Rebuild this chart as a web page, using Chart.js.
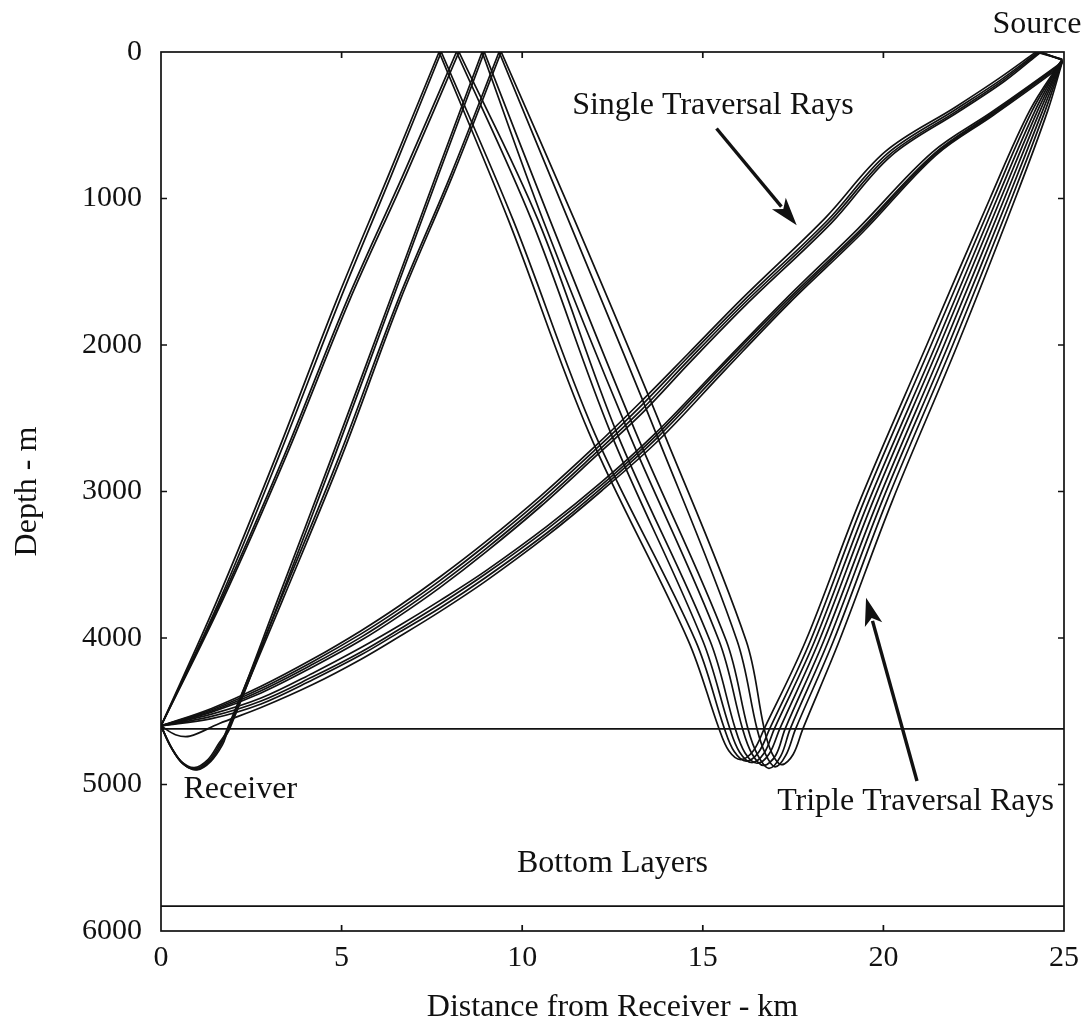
<!DOCTYPE html>
<html>
<head>
<meta charset="utf-8">
<script src="https://cdn.jsdelivr.net/npm/chart.js@4.4.1/dist/chart.umd.min.js"></script>
<style>
  html, body { margin: 0; padding: 0; background: #ffffff; }
  canvas { display: block; }
</style>
</head>
<body>
<canvas id="c" width="1091" height="1025"></canvas>
<script>
// ---------------- DATA (distance km, depth m) ----------------
const xRange = [0, 25];
const yRange = [0, 6000];
const layerDepths = [4620, 5830];

// Single traversal rays, upper bundle (source -> surface bounce -> receiver)
const singleU1 = [[24.95,50],[24.22,0],[23.2,180],[22,375],[20.05,680],[18.4,1130],[16.1,1680],[14.6,2058],[13.25,2396],[12,2696],[10.5,3033],[9,3341],[7.72,3584],[6.6,3780],[5.54,3950],[4.2,4144],[2.77,4330],[1.4,4481],[0,4600]];
const singleU2 = [[24.95,50],[24.28,0],[23.25,190],[22,392],[20.1,695],[18.45,1150],[16.12,1700],[14.6,2080],[13.27,2420],[12,2720],[10.5,3057],[9,3365],[7.72,3608],[6.6,3803],[5.54,3972],[4.2,4162],[2.77,4345],[1.4,4490],[0,4600]];
const singleU3 = [[24.95,55],[24.32,0],[23.3,195],[22.05,400],[20.15,705],[18.5,1160],[16.15,1715],[14.62,2100],[13.3,2443],[12,2745],[10.5,3082],[9,3390],[7.72,3632],[6.6,3826],[5.54,3994],[4.2,4180],[2.77,4360],[1.4,4498],[0,4600]];
const singleU4 = [[24.95,55],[24.36,0],[23.35,200],[22.1,405],[20.2,712],[18.55,1170],[16.2,1725],[14.65,2117],[13.35,2458],[12,2767],[10.5,3104],[9,3412],[7.72,3656],[6.6,3849],[5.54,4016],[4.2,4198],[2.77,4375],[1.4,4506],[0,4600]];
// Single traversal rays, lower bundle (source -> receiver)
const singleL1 = [[24.95,60],[24.8,95],[23,410],[21.35,685],[19.3,1205],[17.3,1685],[15.5,2140],[13.7,2600],[12.2,2935],[10.7,3235],[9,3540],[7.72,3745],[6.6,3915],[5.54,4065],[4.2,4240],[2.77,4410],[1.4,4520],[0,4600]];
const singleL2 = [[24.95,60],[24.8,100],[23,420],[21.4,695],[19.35,1217],[17.32,1697],[15.5,2155],[13.72,2615],[12.2,2955],[10.7,3255],[9,3560],[7.72,3770],[6.6,3940],[5.54,4095],[4.2,4265],[2.77,4430],[1.4,4535],[0,4600]];
const singleL3 = [[24.95,65],[24.82,105],[23.02,425],[21.42,700],[19.38,1225],[17.36,1705],[15.55,2165],[13.75,2630],[12.2,2975],[10.7,3280],[9,3585],[7.72,3795],[6.6,3960],[5.54,4115],[4.2,4285],[2.77,4450],[1.4,4550],[0,4600]];
const singleL4 = [[24.95,65],[24.84,110],[23.05,430],[21.45,705],[19.42,1232],[17.4,1712],[15.6,2175],[13.8,2645],[12.2,2995],[10.7,3300],[9,3610],[7.72,3820],[6.6,3990],[5.54,4145],[4.2,4318],[2.77,4475],[1.6,4585],[0.8,4670],[0.4,4660],[0,4600]];

// Triple traversal rays (receiver -> surface bounce -> bottom turn -> source)
const tripleA1 = [[0,4600],[1.55,3745],[3.2,2750],[4.86,1695],[6.3,840],[7.70,0],[9.62,1148],[11.85,2600],[14.6,4019],[15.45,4620],[15.72,4770],[16.05,4830],[16.4,4770],[16.7,4620],[17.85,4019],[19.35,3062],[21.2,2000],[22.95,1000],[24.05,400],[24.95,50]];
const tripleA2 = [[0,4600],[1.62,3745],[3.28,2750],[4.95,1695],[6.38,840],[7.76,0],[9.75,1148],[12.0,2600],[14.8,4019],[15.6,4620],[15.87,4775],[16.2,4840],[16.55,4778],[16.85,4620],[17.98,4019],[19.47,3062],[21.32,2000],[23.05,1000],[24.12,400],[24.95,55]];
const tripleB1 = [[0,4600],[1.66,3745],[3.42,2750],[5.15,1695],[6.7,840],[8.18,0],[10.26,1148],[12.45,2600],[15.0,4019],[15.75,4620],[16.02,4780],[16.35,4850],[16.7,4785],[16.98,4620],[18.1,4019],[19.6,3062],[21.45,2000],[23.15,1000],[24.2,400],[24.95,55]];
const tripleB2 = [[0,4600],[1.7,3745],[3.48,2750],[5.22,1695],[6.78,840],[8.25,0],[10.44,1148],[12.62,2600],[15.2,4019],[15.9,4620],[16.17,4785],[16.5,4855],[16.84,4790],[17.13,4620],[18.22,4019],[19.72,3062],[21.56,2000],[23.25,1000],[24.27,400],[24.95,60]];
const tripleC1 = [[0,4600],[0.25,4735],[0.55,4840],[0.92,4885],[1.3,4830],[1.6,4720],[1.86,4620],[3.22,3745],[4.75,2750],[6.34,1695],[7.62,840],[8.89,0],[10.58,1148],[12.95,2600],[15.45,4019],[16.1,4620],[16.36,4790],[16.68,4870],[17.02,4800],[17.28,4620],[18.35,4019],[19.85,3062],[21.68,2000],[23.35,1000],[24.34,400],[24.95,60]];
const tripleC2 = [[0,4600],[0.28,4745],[0.58,4850],[0.95,4892],[1.33,4835],[1.63,4725],[1.9,4620],[3.28,3745],[4.82,2750],[6.4,1695],[7.68,840],[8.95,0],[10.77,1148],[13.15,2600],[15.65,4019],[16.25,4620],[16.52,4800],[16.83,4890],[17.16,4805],[17.42,4620],[18.48,4019],[19.97,3062],[21.8,2000],[23.45,1000],[24.41,400],[24.95,65]];
const tripleD1 = [[0,4600],[0.3,4755],[0.6,4858],[0.98,4897],[1.36,4838],[1.66,4728],[1.8,4640],[3.3,3745],[4.95,2750],[6.56,1695],[8.02,840],[9.36,0],[11.28,1148],[13.7,2600],[15.95,4019],[16.5,4620],[16.74,4795],[17.0,4880],[17.3,4800],[17.57,4620],[18.62,4019],[20.1,3062],[21.92,2000],[23.55,1000],[24.48,400],[24.95,65]];
const tripleD2 = [[0,4600],[0.32,4760],[0.63,4862],[1.0,4900],[1.38,4842],[1.7,4730],[1.84,4640],[3.36,3745],[5.02,2750],[6.62,1695],[8.08,840],[9.42,0],[11.45,1148],[13.92,2600],[16.2,4019],[16.7,4620],[16.92,4790],[17.18,4865],[17.5,4795],[17.77,4620],[18.78,4019],[20.25,3062],[22.05,2000],[23.65,1000],[24.55,400],[24.95,70]];

const labelTexts = ['Source', 'Single Traversal Rays', 'Triple Traversal Rays', 'Receiver', 'Bottom Layers'];
const axisTitles = ['Distance from Receiver - km', 'Depth - m'];

// ---------------- BUILD ----------------
const FONT = '"Liberation Serif", "Times New Roman", serif';
const rays = [singleU1, singleU2, singleU3, singleU4, singleL1, singleL2, singleL3, singleL4,
              tripleA1, tripleA2, tripleB1, tripleB2, tripleC1, tripleC2, tripleD1, tripleD2];

function splitAtSurface(ray) {
  const legs = [];
  let cur = [];
  ray.forEach((p, i) => {
    cur.push({x: p[0], y: p[1]});
    if (p[1] === 0 && i > 0 && i < ray.length - 1) {
      legs.push(cur);
      cur = [{x: p[0], y: p[1]}];
    }
  });
  legs.push(cur);
  return legs;
}

const datasets = [];
rays.forEach(r => {
  splitAtSurface(r).forEach(leg => {
    datasets.push({
      data: leg, showLine: true, borderColor: '#111', borderWidth: 1.7,
      pointRadius: 0, tension: 0.35, fill: false
    });
  });
});
layerDepths.forEach(d => {
  datasets.push({
    data: [{x: xRange[0], y: d}, {x: xRange[1], y: d}], showLine: true,
    borderColor: '#111', borderWidth: 1.7, pointRadius: 0, tension: 0, fill: false
  });
});

// annotation placement (data coordinates)
const annotationSpec = {
  texts: [
    {i: 0, x: 24.25, y: -185, align: 'center'},
    {i: 1, x: 15.28, y: 369, align: 'center'},
    {i: 2, x: 24.72, y: 5120, align: 'right'},
    {i: 3, x: 0.62, y: 5037, align: 'left'},
    {i: 4, x: 12.5, y: 5543, align: 'center'}
  ],
  arrows: [
    {from: [15.38, 522], to: [17.6, 1182]},
    {from: [20.93, 4976], to: [19.52, 3725]}
  ]
};

const framePlugin = {
  id: 'frame',
  afterDraw(chart) {
    const {ctx, chartArea: a, scales: {x, y}} = chart;
    ctx.save();
    ctx.strokeStyle = '#111';
    ctx.lineWidth = 1.7;
    ctx.strokeRect(a.left, a.top, a.right - a.left, a.bottom - a.top);
    const tl = 6;
    ctx.beginPath();
    x.ticks.forEach(t => {
      if (t.value <= xRange[0] || t.value >= xRange[1]) return;
      const px = x.getPixelForValue(t.value);
      ctx.moveTo(px, a.bottom); ctx.lineTo(px, a.bottom - tl);
      ctx.moveTo(px, a.top); ctx.lineTo(px, a.top + tl);
    });
    y.ticks.forEach(t => {
      if (t.value <= yRange[0] || t.value >= yRange[1]) return;
      const py = y.getPixelForValue(t.value);
      ctx.moveTo(a.left, py); ctx.lineTo(a.left + tl, py);
      ctx.moveTo(a.right, py); ctx.lineTo(a.right - tl, py);
    });
    ctx.stroke();

    ctx.fillStyle = '#111';
    ctx.font = '32px ' + FONT;
    ctx.textBaseline = 'middle';
    annotationSpec.texts.forEach(t => {
      ctx.textAlign = t.align;
      ctx.fillText(labelTexts[t.i], x.getPixelForValue(t.x), y.getPixelForValue(t.y));
    });

    annotationSpec.arrows.forEach(ar => {
      const x0 = x.getPixelForValue(ar.from[0]), y0 = y.getPixelForValue(ar.from[1]);
      const x1 = x.getPixelForValue(ar.to[0]), y1 = y.getPixelForValue(ar.to[1]);
      const ang = Math.atan2(y1 - y0, x1 - x0);
      const hl = 28, hw = 9;
      const bx = x1 - Math.cos(ang) * hl, by = y1 - Math.sin(ang) * hl;
      ctx.lineWidth = 3.4;
      ctx.beginPath();
      ctx.moveTo(x0, y0);
      ctx.lineTo(bx + Math.cos(ang) * 4, by + Math.sin(ang) * 4);
      ctx.stroke();
      ctx.beginPath();
      ctx.moveTo(x1, y1);
      ctx.lineTo(bx - Math.sin(ang) * hw, by + Math.cos(ang) * hw);
      ctx.lineTo(bx + Math.cos(ang) * 7, by + Math.sin(ang) * 7);
      ctx.lineTo(bx + Math.sin(ang) * hw, by - Math.cos(ang) * hw);
      ctx.closePath();
      ctx.fill();
    });
    ctx.restore();
  }
};

new Chart(document.getElementById('c'), {
  type: 'scatter',
  data: { datasets },
  options: {
    responsive: false,
    animation: false,
    devicePixelRatio: 1,
    layout: { padding: { top: 52, right: 27, bottom: 0, left: 0 } },
    plugins: { legend: { display: false }, tooltip: { enabled: false } },
    scales: {
      x: {
        type: 'linear', min: xRange[0], max: xRange[1],
        grid: { display: false }, border: { display: false },
        ticks: { stepSize: 5, color: '#111', padding: 1, maxRotation: 0,
                 font: { family: FONT, size: 30 }, callback: v => String(v) },
        title: { display: true, text: axisTitles[0], color: '#111',
                 font: { family: FONT, size: 32, lineHeight: 1 }, padding: { top: 0, bottom: 1 } },
        afterFit: s => { s.height = 94; s.paddingLeft = 0; s.paddingRight = 0; }
      },
      y: {
        type: 'linear', reverse: true, min: yRange[0], max: yRange[1],
        grid: { display: false }, border: { display: false },
        ticks: { stepSize: 1000, color: '#111', padding: 11,
                 font: { family: FONT, size: 30 }, callback: v => String(v) },
        title: { display: true, text: axisTitles[1], color: '#111',
                 font: { family: FONT, size: 32, lineHeight: 1 }, padding: { top: 12, bottom: 0 } },
        afterFit: s => { s.width = 161; s.paddingTop = 0; s.paddingBottom = 0; }
      }
    }
  },
  plugins: [framePlugin]
});
</script>
</body>
</html>
